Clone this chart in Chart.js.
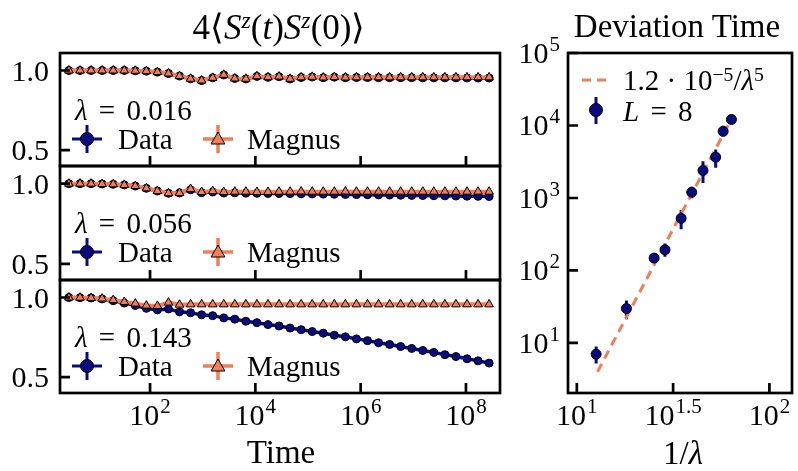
<!DOCTYPE html>
<html>
<head>
<meta charset="utf-8">
<script src="https://cdn.jsdelivr.net/npm/chart.js@4.4.1/dist/chart.umd.min.js"></script>
<style>
  body { margin: 0; background: #fff; }
  #wrap { position: relative; width: 798px; height: 471px; overflow: hidden; font-family: "Liberation Serif", serif; color: #000; }
  canvas { position: absolute; left: 0; top: 0; }
  .lbl { position: absolute; white-space: nowrap; line-height: 1; transform: translateY(-50%); }
  .mid { transform: translate(-50%, -50%); }
  .t { font-size: 33px; }
  .t1 { font-size: 35px; }
  .lg { font-size: 29px; }
  .eq { word-spacing: 4px; }
  sup { font-size: 0.68em; position: relative; top: -0.45em; vertical-align: 0; line-height: 0; }
  i { font-style: italic; }
</style>
</head>
<body>
<div id="wrap">
  <canvas id="p0" width="798" height="471"></canvas>
  <canvas id="p1" width="798" height="471"></canvas>
  <canvas id="p2" width="798" height="471"></canvas>
  <canvas id="dev" width="798" height="471"></canvas>

  <div class="lbl mid t1" style="left:279px; top:27px;">4⟨<i>S</i><sup><i>z</i></sup>(<i>t</i>)<i>S</i><sup><i>z</i></sup>(0)⟩</div>
  <div class="lbl mid t" style="left:677px; top:26px;">Deviation Time</div>
  <div class="lbl mid t" style="left:281px; top:452px;">Time</div>
  <div class="lbl mid t" style="left:683px; top:453px;">1/<i>λ</i></div>

  <div class="lbl lg eq" style="left:75px; top:110px;"><i>λ</i> = 0.016</div>
  <div class="lbl lg" style="left:118px; top:139px;">Data</div>
  <div class="lbl lg" style="left:247px; top:139px;">Magnus</div>

  <div class="lbl lg eq" style="left:75px; top:223px;"><i>λ</i> = 0.056</div>
  <div class="lbl lg" style="left:118px; top:252px;">Data</div>
  <div class="lbl lg" style="left:247px; top:252px;">Magnus</div>

  <div class="lbl lg eq" style="left:75px; top:337px;"><i>λ</i> = 0.143</div>
  <div class="lbl lg" style="left:118px; top:366px;">Data</div>
  <div class="lbl lg" style="left:247px; top:366px;">Magnus</div>

  <div class="lbl lg" style="left:623px; top:80px;">1.2 · 10<sup>−5</sup>/<i>λ</i><sup>5</sup></div>
  <div class="lbl lg eq" style="left:623px; top:111px;"><i>L</i> = 8</div>
</div>
<script>
// time grid shared by the three correlator panels
const times = [2.88, 4.68, 7.59, 12.3, 20.0, 32.4, 52.5, 85.1, 138, 224, 363, 589, 955, 1549, 2512,
  4074, 6607, 10715, 17378, 28184, 45709, 74131, 120226, 194984, 316228, 512861, 831764,
  1.349e6, 2.188e6, 3.548e6, 5.754e6, 9.333e6, 1.514e7, 2.455e7, 3.981e7, 6.457e7, 1.047e8, 1.698e8, 2.754e8];

// lambda = 0.016
const magnus016 = [1.0, 1.0, 1.0, 1.0, 1.0, 1.0, 0.998, 0.996, 0.99, 0.981, 0.965, 0.948, 0.937, 0.954, 0.973,
  0.95, 0.948, 0.964, 0.958, 0.962, 0.948, 0.957, 0.96, 0.956, 0.959, 0.956, 0.957, 0.957, 0.957, 0.957,
  0.957, 0.957, 0.957, 0.957, 0.957, 0.957, 0.957, 0.957, 0.957];
const data016 = [1.0, 1.0, 1.0, 1.0, 1.0, 1.0, 0.998, 0.996, 0.99, 0.981, 0.965, 0.948, 0.937, 0.954, 0.972,
  0.95, 0.947, 0.963, 0.957, 0.961, 0.947, 0.956, 0.959, 0.955, 0.958, 0.955, 0.956, 0.956, 0.955, 0.955,
  0.955, 0.955, 0.954, 0.954, 0.954, 0.954, 0.953, 0.953, 0.953];

// lambda = 0.056
const magnus056 = [1.0, 1.0, 1.0, 0.998, 0.996, 0.992, 0.985, 0.971, 0.954, 0.94, 0.942, 0.967, 0.948, 0.954, 0.948,
  0.95, 0.95, 0.948, 0.948, 0.95, 0.95, 0.951, 0.95, 0.95, 0.95, 0.951, 0.95, 0.95, 0.95, 0.95,
  0.95, 0.95, 0.95, 0.95, 0.95, 0.95, 0.95, 0.95, 0.95];
const data056 = [1.0, 1.0, 1.0, 0.998, 0.996, 0.992, 0.985, 0.971, 0.954, 0.94, 0.942, 0.962, 0.944, 0.948, 0.942,
  0.943, 0.941, 0.94, 0.939, 0.939, 0.938, 0.937, 0.936, 0.935, 0.934, 0.933, 0.932, 0.931, 0.93, 0.929,
  0.928, 0.927, 0.926, 0.925, 0.924, 0.923, 0.922, 0.921, 0.92];

// lambda = 0.143
const magnus143 = [1.0, 0.999, 0.997, 0.993, 0.984, 0.972, 0.962, 0.949, 0.947, 0.968, 0.955, 0.957, 0.957, 0.957, 0.957,
  0.957, 0.957, 0.957, 0.957, 0.957, 0.957, 0.957, 0.957, 0.957, 0.957, 0.957, 0.957, 0.957, 0.957, 0.957,
  0.957, 0.957, 0.957, 0.957, 0.957, 0.957, 0.957, 0.957, 0.957];
const data143 = [1.0, 0.999, 0.997, 0.991, 0.98, 0.965, 0.95, 0.932, 0.922, 0.928, 0.91, 0.904, 0.891, 0.886, 0.872,
  0.864, 0.851, 0.842, 0.83, 0.821, 0.808, 0.798, 0.786, 0.776, 0.763, 0.753, 0.74, 0.729, 0.716, 0.705,
  0.692, 0.68, 0.667, 0.655, 0.641, 0.629, 0.615, 0.602, 0.588];

// deviation time vs 1/lambda, L = 8
const invLambda = [12.6, 18.1, 25.2, 28.7, 34.8, 39.5, 45.2, 52.6, 57.5, 63.5];
const devTime = [7.0, 29.8, 148, 193, 523, 1200, 2390, 3660, 8300, 12100];
const devLow = [5.2, 21.3, 140, 155, 369, 990, 1614, 2610, 7190, 11400];
const devHigh = [8.9, 38.5, 156, 235, 682, 1432, 3210, 4680, 9890, 12800];

// power-law guide 1.2e-5 / lambda^5, end points
const fitX = [12.8, 62.5];
const fitY = [4.0, 11400];

// tick labels
const timeTickExp = ['2', '4', '6', '8'];
const corrTicks = ['0.5', '1.0'];
const devXTickExp = ['1', '1.5', '2'];
const devYTickExp = ['1', '2', '3', '4', '5'];

const NAVY = '#0b0b80';
const CORAL = '#f07f59';
const TICK = 10;
const BASE_FONT = '30px "Liberation Serif"';
const SUP_FONT = '21px "Liberation Serif"';

const pairs = (xs, ys) => xs.map((x, i) => ({x: x, y: ys[i]}));

function drawPower(ctx, exp, x, y, align) {
    ctx.font = BASE_FONT;
    const wb = ctx.measureText('10').width;
    ctx.font = SUP_FONT;
    const we = ctx.measureText(exp).width;
    const w = wb + 1 + we;
    const x0 = align === 'center' ? x - w / 2 : (align === 'right' ? x - w : x);
    ctx.textAlign = 'left';
    ctx.textBaseline = 'alphabetic';
    ctx.font = BASE_FONT;
    ctx.fillText('10', x0, y);
    ctx.font = SUP_FONT;
    ctx.fillText(exp, x0 + wb + 1, y - 12);
}

function triangle(ctx, x, y, r) {
    ctx.beginPath();
    for (let k = 0; k < 3; k++) {
        const ang = k * 2 * Math.PI / 3;
        const px = x + Math.sin(ang) * r, py = y - Math.cos(ang) * r;
        if (k === 0) ctx.moveTo(px, py); else ctx.lineTo(px, py);
    }
    ctx.closePath();
    ctx.fill();
    ctx.stroke();
}

function dot(ctx, x, y, r) {
    ctx.beginPath();
    ctx.arc(x, y, r, 0, 2 * Math.PI);
    ctx.fill();
    ctx.stroke();
}

// Data / Magnus legend handles inside each time panel
function timeLegend(ctx, a) {
    const y = a.top + 86;
    ctx.lineWidth = 3;
    ctx.strokeStyle = NAVY;
    ctx.beginPath();
    ctx.moveTo(a.left + 12, y); ctx.lineTo(a.left + 42, y);
    ctx.moveTo(a.left + 27, y - 14); ctx.lineTo(a.left + 27, y + 14);
    ctx.stroke();
    ctx.fillStyle = NAVY; ctx.strokeStyle = '#000'; ctx.lineWidth = 1;
    dot(ctx, a.left + 27, y, 6.5);

    ctx.lineWidth = 3.5;
    ctx.strokeStyle = CORAL;
    ctx.beginPath();
    ctx.moveTo(a.left + 143, y); ctx.lineTo(a.left + 173, y);
    ctx.moveTo(a.left + 158, y - 14); ctx.lineTo(a.left + 158, y + 14);
    ctx.stroke();
    ctx.fillStyle = CORAL; ctx.strokeStyle = '#000'; ctx.lineWidth = 1;
    triangle(ctx, a.left + 158, y + 1, 8);
}

function devLegend(ctx, a) {
    ctx.strokeStyle = CORAL;
    ctx.lineWidth = 3;
    ctx.setLineDash([9, 6]);
    ctx.beginPath();
    ctx.moveTo(a.left + 14, 80); ctx.lineTo(a.left + 43, 80);
    ctx.stroke();
    ctx.setLineDash([]);
    ctx.strokeStyle = NAVY;
    ctx.beginPath();
    ctx.moveTo(a.left + 28, 97); ctx.lineTo(a.left + 28, 124);
    ctx.stroke();
    ctx.fillStyle = NAVY; ctx.strokeStyle = '#000'; ctx.lineWidth = 1;
    dot(ctx, a.left + 28, 110, 6.5);
}

const frame = {
    id: 'frame',
    beforeDatasetsDraw(chart, args, o) {
        if (!o.errorBars) return;
        const {ctx} = chart;
        const sx = chart.scales.x, sy = chart.scales.y;
        ctx.save();
        ctx.strokeStyle = NAVY;
        ctx.lineWidth = 3;
        ctx.beginPath();
        invLambda.forEach((v, i) => {
            const px = sx.getPixelForValue(v);
            ctx.moveTo(px, sy.getPixelForValue(devLow[i]));
            ctx.lineTo(px, sy.getPixelForValue(devHigh[i]));
        });
        ctx.stroke();
        ctx.restore();
    },
    afterDraw(chart, args, o) {
        const {ctx, chartArea: a} = chart;
        const sx = chart.scales.x, sy = chart.scales.y;
        ctx.save();
        if (o.legend === 'time') timeLegend(ctx, a);
        if (o.legend === 'dev') devLegend(ctx, a);

        ctx.strokeStyle = '#000';
        ctx.lineWidth = 2.7;
        ctx.beginPath();
        o.xTicks.forEach(v => {
            const px = sx.getPixelForValue(v);
            ctx.moveTo(px, a.bottom); ctx.lineTo(px, a.bottom - TICK);
        });
        o.yTicks.forEach(v => {
            const py = sy.getPixelForValue(v);
            ctx.moveTo(a.left, py); ctx.lineTo(a.left + TICK, py);
        });
        ctx.stroke();
        ctx.strokeRect(a.left, a.top, a.right - a.left, a.bottom - a.top);

        ctx.fillStyle = '#000';
        if (o.xExp) {
            o.xTicks.forEach((v, i) => drawPower(ctx, o.xExp[i], sx.getPixelForValue(v), a.bottom + 32, 'center'));
        }
        if (o.yExp) {
            o.yTicks.forEach((v, i) => drawPower(ctx, o.yExp[i], a.left - 8, sy.getPixelForValue(v) + 10, 'right'));
        }
        if (o.yText) {
            ctx.font = BASE_FONT;
            ctx.textAlign = 'right';
            ctx.textBaseline = 'alphabetic';
            o.yTicks.forEach((v, i) => ctx.fillText(o.yText[i], a.left - 11, sy.getPixelForValue(v) + 10));
        }
        ctx.restore();
    }
};

function timePanel(id, top, bottom, magnus, data, showX) {
    return new Chart(document.getElementById(id), {
        type: 'line',
        data: {
            datasets: [
                {
                    label: 'Magnus',
                    data: pairs(times, magnus),
                    borderColor: CORAL,
                    borderWidth: 4,
                    pointStyle: 'triangle',
                    pointRadius: 5,
                    pointBackgroundColor: CORAL,
                    pointBorderColor: '#000',
                    pointBorderWidth: 1
                },
                {
                    label: 'Data',
                    data: pairs(times, data),
                    borderColor: NAVY,
                    borderWidth: 3.5,
                    pointStyle: 'circle',
                    pointRadius: 4,
                    pointBackgroundColor: NAVY,
                    pointBorderColor: '#000',
                    pointBorderWidth: 1
                }
            ]
        },
        options: {
            responsive: false,
            animation: false,
            devicePixelRatio: 1,
            layout: {padding: {left: 60, right: 298, top: top, bottom: 471 - bottom}},
            plugins: {
                legend: {display: false},
                tooltip: {enabled: false},
                frame: {
                    legend: 'time',
                    xTicks: timeTickExp.map(e => Math.pow(10, +e)),
                    xExp: showX ? timeTickExp : null,
                    yTicks: corrTicks.map(Number),
                    yText: corrTicks
                }
            },
            scales: {
                x: {type: 'logarithmic', min: 1.95, max: 4.43e8, display: false},
                y: {type: 'linear', min: 0.4, max: 1.11, display: false}
            }
        },
        plugins: [frame]
    });
}

timePanel('p0', 53, 166, magnus016, data016, false);
timePanel('p1', 166, 280, magnus056, data056, false);
timePanel('p2', 280, 393, magnus143, data143, true);

new Chart(document.getElementById('dev'), {
    type: 'scatter',
    data: {
        datasets: [
            {
                label: 'L = 8',
                data: pairs(invLambda, devTime),
                pointRadius: 5,
                pointBackgroundColor: NAVY,
                pointBorderColor: '#000',
                pointBorderWidth: 1,
                showLine: false
            },
            {
                type: 'line',
                label: 'fit',
                data: pairs(fitX, fitY),
                borderColor: CORAL,
                borderWidth: 3,
                borderDash: [9, 6],
                pointRadius: 0
            }
        ]
    },
    options: {
        responsive: false,
        animation: false,
        devicePixelRatio: 1,
        layout: {padding: {left: 568, right: 2, top: 53, bottom: 78}},
        plugins: {
            legend: {display: false},
            tooltip: {enabled: false},
            frame: {
                legend: 'dev',
                errorBars: true,
                xTicks: devXTickExp.map(e => Math.pow(10, +e)),
                xExp: devXTickExp,
                yTicks: devYTickExp.map(e => Math.pow(10, +e)),
                yExp: devYTickExp
            }
        },
        scales: {
            x: {type: 'logarithmic', min: 9.0, max: 131, display: false},
            y: {type: 'logarithmic', min: 2.04, max: 1e5, display: false}
        }
    },
    plugins: [frame]
});
</script>
</body>
</html>
